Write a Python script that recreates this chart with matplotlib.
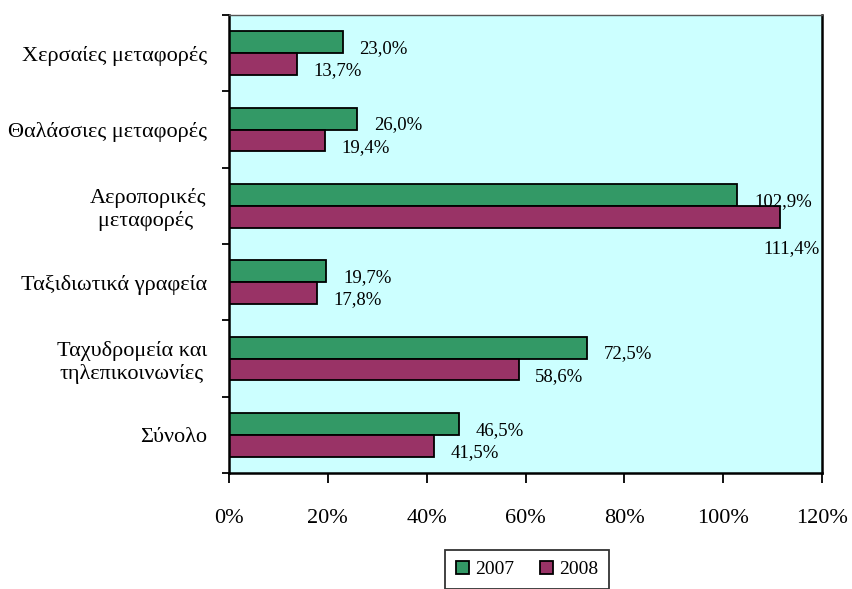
import matplotlib
matplotlib.use("Agg")
import matplotlib.pyplot as plt
import numpy as np

categories = ["Χερσαίες μεταφορές", "Θαλάσσιες μεταφορές", "Αεροπορικές\nμεταφορές ",
              "Ταξιδιωτικά γραφεία", "Ταχυδρομεία και\nτηλεπικοινωνίες", "Σύνολο"]
v2007 = [23.0, 26.0, 102.9, 19.7, 72.5, 46.5]
v2008 = [13.7, 19.4, 111.4, 17.8, 58.6, 41.5]
series_names = ["2007", "2008"]
xticks = [0, 20, 40, 60, 80, 100, 120]

plt.rcParams['font.family'] = ['Liberation Serif', 'DejaVu Serif']

fig = plt.figure(figsize=(8.53, 5.89), dpi=100)
ax = fig.add_axes([229/853, 1-473/589, (822-229)/853, (473-15)/589])
ax.set_facecolor('#CCFFFF')

n = len(categories)
y = np.arange(n)
h = 0.287
green = '#339966'
purple = '#993366'
b1 = ax.barh(y - h/2, v2007, height=h, color=green, edgecolor='black', linewidth=1.3, label=series_names[0])
b2 = ax.barh(y + h/2, v2008, height=h, color=purple, edgecolor='black', linewidth=1.3, label=series_names[1])

ax.set_xlim(0, 120)
ax.set_ylim(n - 0.5, -0.5)

def fmt(v):
    return f"{v:.1f}%".replace('.', ',')

xmax = ax.get_xlim()[1]
for yi, v in zip(y, v2007):
    ax.annotate(fmt(v), (v, yi - h/2), xytext=(12, -4.5), textcoords='offset points',
                ha='left', va='center', fontsize=13.5)
for yi, v in zip(y, v2008):
    if v + 14 > xmax:
        ax.annotate(fmt(v), (xmax, yi + h/2), xytext=(-1.5, -23), textcoords='offset points',
                    ha='right', va='center', fontsize=13.5)
    else:
        ax.annotate(fmt(v), (v, yi + h/2), xytext=(12, -5), textcoords='offset points',
                    ha='left', va='center', fontsize=13.5)

ax.set_xticks(xticks)
ax.set_xticklabels([f"{t}%" for t in xticks], fontsize=16)
ax.tick_params(axis='x', direction='out', length=7, width=1.3, pad=19)

ax.set_yticks(np.arange(n + 1) - 0.5)
ax.set_yticklabels([])
ax.tick_params(axis='y', which='major', direction='out', length=5, width=1.3)
ax.set_yticks(y, minor=True)
ax.set_yticklabels(categories, minor=True, fontsize=16, multialignment='center')
ax.tick_params(axis='y', which='minor', length=0, pad=16)

for s in ['left', 'bottom', 'right']:
    ax.spines[s].set_linewidth(1.8)
    ax.spines[s].set_color('black')
ax.spines['top'].set_linewidth(1.0)
ax.spines['top'].set_color('#555555')

leg = fig.legend(handles=[b1, b2], loc='upper center', bbox_to_anchor=(527/853, 1-550/589),
                 ncol=2, fontsize=14, frameon=True, fancybox=False, edgecolor='black',
                 handlelength=0.7, handleheight=0.7, handletextpad=0.3, columnspacing=1.3,
                 borderpad=0.55, borderaxespad=0)
leg.get_frame().set_linewidth(1.3)

fig.savefig("out.png", dpi=100)
